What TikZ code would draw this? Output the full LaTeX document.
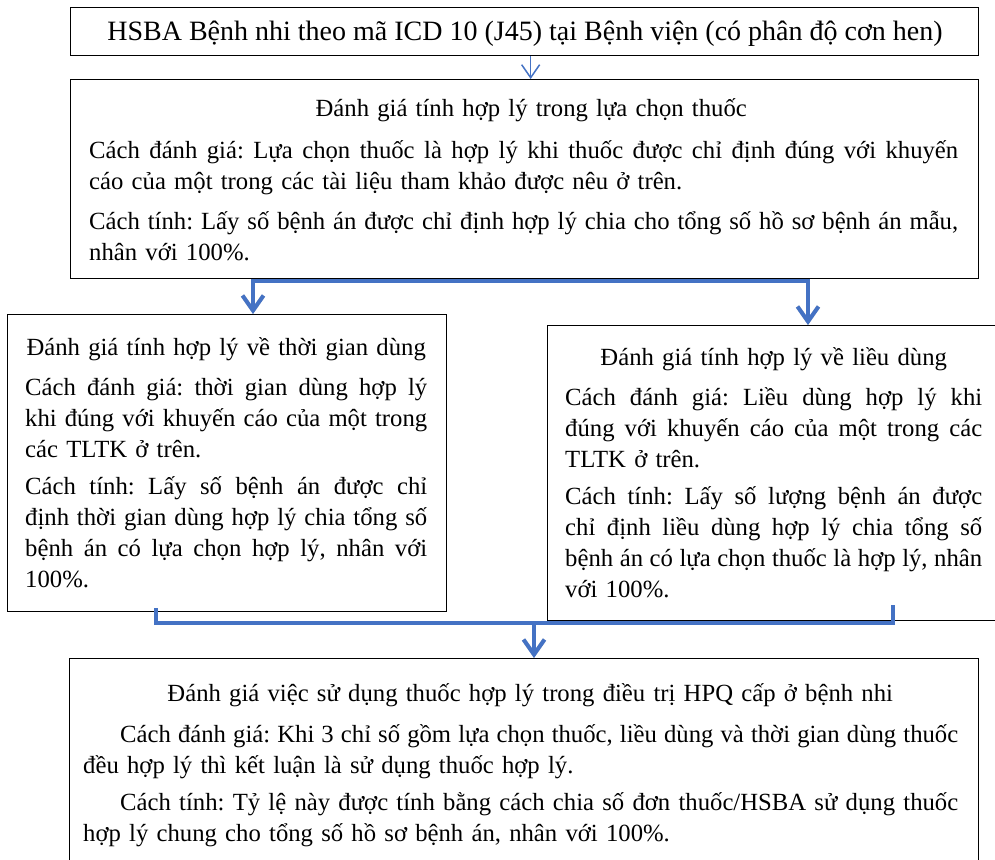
\documentclass[tikz,border=0pt]{standalone}
\usepackage{fontspec}
\setmainfont{Liberation Serif}
\usetikzlibrary{arrows.meta}
\definecolor{wblue}{HTML}{4472C4}
\setlength\parindent{0pt}
\frenchspacing
\newcommand\ttl[2]{\makebox[#1][c]{\strut #2}\par}
\newcommand\jln[2]{{\spaceskip=\fontdimen2\font plus 1fil minus 0.5\fontdimen2\font\relax\hbox to #1{\strut #2}}\par}
\newcommand\lln[2]{\makebox[#1][l]{\strut #2}\par}
\newcommand\bodyfont{\fontsize{24.7}{31}\selectfont\frenchspacing\lineskiplimit=-100pt\parindent=0pt\parskip=0pt\relax}
\begin{document}
\begin{tikzpicture}[x=1pt,y=-1pt,
  box/.style={draw=black, line width=1.3pt, rectangle, inner sep=0pt, anchor=north west},
  txt/.style={inner sep=0pt, anchor=north west, text width=#1, font=\bodyfont},
  thinarrow/.style={draw=wblue, line width=1.5pt, -{Straight Barb[length=13pt,width=18pt]}},
  bigtip/.tip={Straight Barb[length=15pt,width=21pt]},
  bar/.style={draw=wblue, line width=4pt, line join=miter},
  shade/.style={draw=black!25, line width=4pt, line join=miter, opacity=0.7}
]
\useasboundingbox (0,0) rectangle (995,859);
\fill[white] (0,0) rectangle (995,859);

% boxes
\node[box, minimum width=908pt, minimum height=48pt] (b1) at (70,7) {};
\node[box, minimum width=908pt, minimum height=199pt] (b2) at (70,79) {};
\node[box, minimum width=439pt, minimum height=297pt] (b3) at (7,314) {};
\node[box, minimum width=460pt, minimum height=295pt] (b4) at (547,325) {};
\node[box, minimum width=909pt, minimum height=215pt] (b5) at (69,658) {};

% texts
\node[inner sep=0pt, anchor=base, font=\fontsize{28}{32}\selectfont] (t1) at (525,41)
  {HSBA Bệnh nhi theo mã ICD 10 (J45) tại Bệnh viện (có phân độ cơn hen)};

\node[txt=869pt] (t2) at (89,94.3) {%
\ttl{869pt}{\hspace*{15pt}Đánh giá tính hợp lý trong lựa chọn thuốc}\vspace{11pt}%
\jln{869pt}{Cách đánh giá: Lựa chọn thuốc là hợp lý khi thuốc được chỉ định đúng với khuyến}%
\lln{869pt}{cáo của một trong các tài liệu tham khảo được nêu ở trên.}\vspace{9pt}%
\jln{869pt}{Cách tính: Lấy số bệnh án được chỉ định hợp lý chia cho tổng số hồ sơ bệnh án mẫu,}%
\lln{869pt}{nhân với 100\%.}};

\node[txt=402pt] (t3) at (25,333.3) {%
\ttl{402pt}{Đánh giá tính hợp lý về thời gian dùng}\vspace{9pt}%
\jln{402pt}{Cách đánh giá: thời gian dùng hợp lý}%
\jln{402pt}{khi đúng với khuyến cáo của một trong}%
\lln{402pt}{các TLTK ở trên.}\vspace{6pt}%
\jln{402pt}{Cách tính: Lấy số bệnh án được chỉ}%
\jln{402pt}{định thời gian dùng hợp lý chia tổng số}%
\jln{402pt}{bệnh án có lựa chọn hợp lý, nhân với}%
\lln{402pt}{100\%.}};

\node[txt=417pt] (t4) at (565,343.3) {%
\ttl{417pt}{Đánh giá tính hợp lý về liều dùng}\vspace{9pt}%
\jln{417pt}{Cách đánh giá: Liều dùng hợp lý khi}%
\jln{417pt}{đúng với khuyến cáo của một trong các}%
\lln{417pt}{TLTK ở trên.}\vspace{6pt}%
\jln{417pt}{Cách tính: Lấy số lượng bệnh án được}%
\jln{417pt}{chỉ định liều dùng hợp lý chia tổng số}%
\jln{417pt}{bệnh án có lựa chọn thuốc là hợp lý, nhân}%
\lln{417pt}{với 100\%.}};

\node[txt=875pt] (t5) at (83,679.3) {%
\ttl{875pt}{\hspace*{19pt}Đánh giá việc sử dụng thuốc hợp lý trong điều trị HPQ cấp ở bệnh nhi}\vspace{10pt}%
\jln{875pt}{\hspace*{37pt}Cách đánh giá: Khi 3 chỉ số gồm lựa chọn thuốc, liều dùng và thời gian dùng thuốc}%
\lln{875pt}{đều hợp lý thì kết luận là sử dụng thuốc hợp lý.}\vspace{6pt}%
\jln{875pt}{\hspace*{37pt}Cách tính: Tỷ lệ này được tính bằng cách chia số đơn thuốc/HSBA sử dụng thuốc}%
\lln{875pt}{hợp lý chung cho tổng số hồ sơ bệnh án, nhân với 100\%.}};

% connector coordinates
\coordinate (jL) at (253,281);
\coordinate (jR) at (808,281);
\coordinate (kL) at (156,608);
\coordinate (kR) at (893,605);
\coordinate (mL) at (156,623);
\coordinate (mR) at (893,623);
\coordinate (mC) at (534,623);

% b1 -> b2
\draw[thinarrow] ([xshift=6pt]b1.south) -- ([xshift=6pt]b2.north);

% shadows
\begin{scope}[shift={(1.5,3)}]
\draw[shade, {bigtip}-{bigtip}] (b3.north -| jL) -- (jL) -- (jR) -- (b4.north -| jR);
\draw[shade] (kL) -- (mL) -- (mR) -- (kR);
\draw[shade, -{bigtip}] (mC) -- (b5.north -| mC);
\end{scope}
% b2 -> b3, b4
\draw[bar, {bigtip}-{bigtip}] (b3.north -| jL) -- (jL) -- (jR) -- (b4.north -| jR);

% b3, b4 -> b5
\draw[bar] (kL) -- (mL) -- (mR) -- (kR);
\draw[bar, -{bigtip}] (mC) -- (b5.north -| mC);
\end{tikzpicture}
\end{document}
